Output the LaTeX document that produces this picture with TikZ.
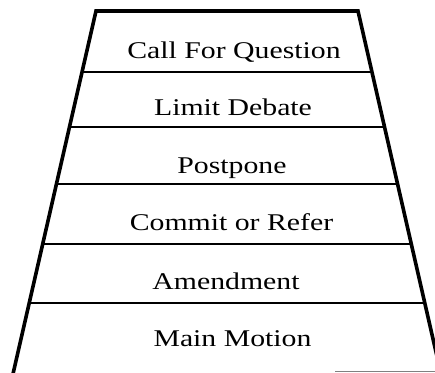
\documentclass[tikz,border=0pt]{standalone}
\usepackage{fontspec}
\setmainfont{Liberation Serif}
\newcommand{\wide}[1]{\scalebox{1.24}[1]{#1}}
\begin{document}
\begin{tikzpicture}[x=1pt,y=-1pt,
  side/.style={line width=3.6pt},
  rungline/.style={line width=2.8pt},
  label/.style={anchor=base,inner sep=0pt,font=\fontsize{24}{28}\selectfont}]
\useasboundingbox (0,0) rectangle (435,372);
\clip (0,0) rectangle (435,372);
% slanted sides of the ladder
\pgfmathsetmacro{\slope}{0.2287}
\coordinate (TL) at (96,11);
\coordinate (TR) at (358,11);
\coordinate (BL) at ({96-\slope*369},380);
\coordinate (BR) at ({358+\slope*369},380);
\draw[side, line join=miter] (BL) -- (TL) -- (TR) -- (BR);
% rungs between the sides
\foreach \y [count=\i] in {72,127,184,244,303} {
  \coordinate (L\i) at ({96-\slope*(\y-11)},\y);
  \coordinate (R\i) at ({358+\slope*(\y-11)},\y);
  \draw[rungline] (L\i) -- (R\i);
}
% faint stub at the bottom edge
\coordinate (g1) at (335,371);
\coordinate (g2) at (435,371);
\draw[gray, line width=0.8pt] (g1) -- (g2);
% labels on each step
\node[label] (cfq) at (234,58) {\wide{Call For Question}};
\node[label] (ld)  at (233,115) {\wide{Limit Debate}};
\node[label] (pp)  at (232,173) {\wide{Postpone}};
\node[label] (cr)  at (231.5,230) {\wide{Commit or Refer}};
\node[label] (am)  at (226,289) {\wide{Amendment}};
\node[label] (mm)  at (232.5,346) {\wide{Main Motion}};
\end{tikzpicture}
\end{document}
